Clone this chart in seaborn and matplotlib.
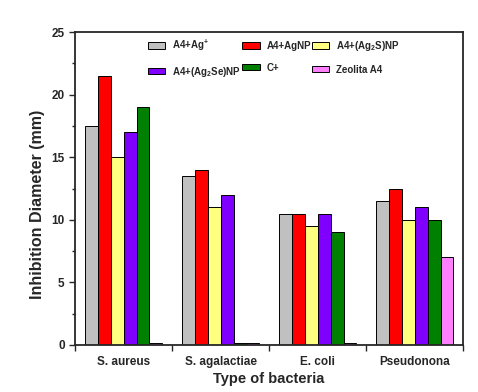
import numpy as np
import pandas as pd
import matplotlib
matplotlib.use("Agg")
import matplotlib.pyplot as plt
import seaborn as sns

bacteria = ["S. aureus", "S. agalactiae", "E. coli", "Pseudonona"]
treatments = ["A4+Ag$^{+}$", "A4+AgNP", "A4+(Ag$_2$S)NP",
              "A4+(Ag$_2$Se)NP", "C+", "Zeolita A4"]
ag_ion = [17.5, 13.5, 10.5, 11.5]
ag_np = [21.5, 14.0, 10.5, 12.5]
ag2s_np = [15.0, 11.0, 9.5, 10.0]
ag2se_np = [17.0, 12.0, 10.5, 11.0]
c_plus = [19.0, 0.15, 9.0, 10.0]
zeolita = [0.15, 0.15, 0.15, 7.0]
colores = ["#C0C0C0", "#FF0000", "#FFFF80", "#8000FF", "#008000", "#FF80FF"]

series = [ag_ion, ag_np, ag2s_np, ag2se_np, c_plus, zeolita]
df = pd.DataFrame({
    "bacteria": bacteria * len(treatments),
    "treatment": [t for t in treatments for _ in bacteria],
    "diameter": [v for s in series for v in s],
})

sns.set_style("ticks")
plt.rcParams["font.family"] = ["Liberation Sans", "DejaVu Sans"]
plt.rcParams["font.weight"] = "bold"
plt.rcParams["mathtext.default"] = "regular"

fig = plt.figure(figsize=(4.78, 3.92), dpi=100)
ax = fig.add_axes([0.157, 0.12, 0.812, 0.798])

sns.barplot(data=df, x="bacteria", y="diameter", hue="treatment",
            hue_order=treatments, order=bacteria, palette=colores,
            saturation=1, edgecolor="black", linewidth=0.7, width=0.8, ax=ax)

ax.set_xlim(-0.5, 3.5)
ax.set_ylim(0, 25)
ax.set_yticks([0, 5, 10, 15, 20, 25])
ax.set_yticks([2.5, 7.5, 12.5, 17.5, 22.5], minor=True)
ax.set_xticks(range(4))
ax.set_xticklabels(bacteria, fontsize=8.5, fontweight="bold")
ax.set_xticks([-0.5, 0.5, 1.5, 2.5, 3.5], minor=True)
ax.tick_params(axis="x", which="major", length=0, pad=8)
ax.tick_params(axis="x", which="minor", length=4, width=1, direction="out")
ax.tick_params(axis="y", which="major", length=4, width=1, labelsize=8.5)
ax.tick_params(axis="y", which="minor", length=2.5, width=1)
for lab in ax.get_yticklabels():
    lab.set_fontweight("bold")
for s in ax.spines.values():
    s.set_linewidth(1.3)
    s.set_visible(True)

ax.set_xlabel("Type of bacteria", fontsize=10.5, fontweight="bold", labelpad=3)
ax.set_ylabel("Inhibition Diameter (mm)", fontsize=11.5, fontweight="bold")
ax.yaxis.set_label_coords(-0.077, 0.45)

handles, labels = ax.get_legend_handles_labels()
orden = [0, 3, 1, 4, 2, 5]
ax.legend([handles[i] for i in orden], [labels[i] for i in orden],
          ncol=3, frameon=False, loc="upper left", bbox_to_anchor=(0.165, 1.01),
          fontsize=7, handlelength=1.8, handleheight=0.6, columnspacing=0.1,
          labelspacing=1.2, handletextpad=0.7)

plt.savefig("out.png", dpi=100)
